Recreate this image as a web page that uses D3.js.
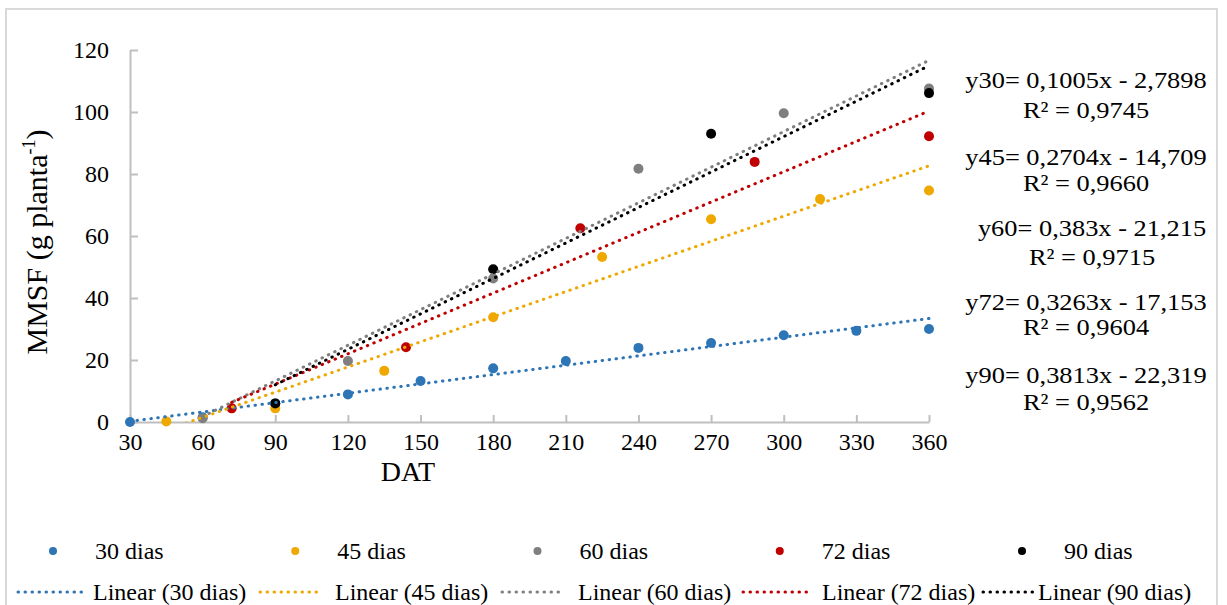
<!DOCTYPE html>
<html>
<head>
<meta charset="utf-8">
<script src="https://cdn.jsdelivr.net/npm/d3@7"></script>
<style>
  html, body { margin: 0; padding: 0; background: #fff; }
  svg { display: block; }
  text { font-family: "Liberation Serif", "Times New Roman", serif; fill: #000; }
</style>
</head>
<body>
<svg id="chart" width="1227" height="605"></svg>
<script>
// ---------- data ----------
const seriesNames = ["30 dias", "45 dias", "60 dias", "72 dias", "90 dias"];
const trendNames = ["Linear (30 dias)", "Linear (45 dias)", "Linear (60 dias)", "Linear (72 dias)", "Linear (90 dias)"];
const colors = ["#2E75B6", "#EEA800", "#7F7F7F", "#C00000", "#000000"];

const x30 = [30, 60, 90, 120, 150, 180, 210, 240, 270, 300, 330, 360];
const y30 = [0.0, 1.5, 6.0, 8.9, 13.2, 17.3, 19.7, 23.9, 25.5, 28.0, 29.4, 30.0];
const x45 = [45, 90, 135, 180, 225, 270, 315, 360];
const y45 = [0.2, 4.4, 16.5, 33.8, 53.2, 65.4, 71.9, 74.7];
const x60 = [60, 120, 180, 240, 300, 360];
const y60 = [1.2, 19.7, 46.3, 81.7, 99.6, 107.6];
const x72 = [72, 144, 216, 288, 360];
const y72 = [4.4, 24.1, 62.5, 83.9, 92.2];
const x90 = [90, 180, 270, 360];
const y90 = [6.0, 49.3, 93.0, 106.1];

const slopes = [0.1005, 0.2704, 0.383, 0.3263, 0.3813];
const intercepts = [-2.7898, -14.709, -21.215, -17.153, -22.319];
const eqLabels = ["y30= 0,1005x - 2,7898", "y45= 0,2704x - 14,709", "y60= 0,383x - 21,215", "y72= 0,3263x - 17,153", "y90= 0,3813x - 22,319"];
const r2Labels = ["R\u00B2 = 0,9745", "R\u00B2 = 0,9660", "R\u00B2 = 0,9715", "R\u00B2 = 0,9604", "R\u00B2 = 0,9562"];

const xTicks = [30, 60, 90, 120, 150, 180, 210, 240, 270, 300, 330, 360];
const yTicks = [0, 20, 40, 60, 80, 100, 120];

const xsAll = [x30, x45, x60, x72, x90];
const ysAll = [y30, y45, y60, y72, y90];

// ---------- layout ----------
const FONT = "Liberation Serif, Times New Roman, serif";
const svg = d3.select("#chart").attr("font-family", FONT);
const x = d3.scaleLinear().domain([30, 360]).range([130, 929]);
const y = d3.scaleLinear().domain([0, 120]).range([422, 50]);
const axisColor = "#BFBFBF";
const fs = 24;

// chart border
svg.append("rect").attr("x", 6).attr("y", 9).attr("width", 1211).attr("height", 620)
  .attr("fill", "none").attr("stroke", "#D9D9D9").attr("stroke-width", 2);

// axes
const xAxis = svg.append("g").attr("transform", `translate(0,${y(0)})`)
  .call(d3.axisBottom(x).tickValues(xTicks).tickSizeInner(-7).tickSizeOuter(0).tickPadding(11).tickFormat(d3.format("d")));
const yAxis = svg.append("g").attr("transform", `translate(${x(30)},0)`)
  .call(d3.axisLeft(y).tickValues(yTicks).tickSizeInner(-8).tickSizeOuter(0).tickPadding(21).tickFormat(d3.format("d")));
[xAxis, yAxis].forEach(g => {
  g.attr("font-family", FONT).attr("font-size", fs);
  g.selectAll("path, line").attr("stroke", axisColor).attr("stroke-width", 2);
  g.selectAll("text").attr("font-size", fs).attr("font-family", FONT).attr("fill", "#000");
});

// axis titles
svg.append("text").attr("x", 408).attr("y", 481).attr("text-anchor", "middle")
  .attr("font-family", FONT).attr("font-size", 28).text("DAT");
const yt = svg.append("text").attr("transform", `translate(47,242) rotate(-90)`)
  .attr("text-anchor", "middle").attr("font-family", FONT).attr("font-size", 30);
yt.append("tspan").text("MMSF (g planta");
yt.append("tspan").attr("font-size", 18).attr("dy", -12).text("-1");
yt.append("tspan").attr("dy", 12).text(")");

// clip for plot area
svg.append("clipPath").attr("id", "plotclip").append("rect")
  .attr("x", x(30) - 10).attr("y", y(120)).attr("width", x(360) - x(30) + 20).attr("height", y(0) - y(120));

// markers
const markerG = svg.append("g");
seriesNames.forEach((name, i) => {
  const pts = xsAll[i].map((xv, j) => [xv, ysAll[i][j]]);
  markerG.selectAll(null).data(pts).enter().append("circle")
    .attr("cx", d => x(d[0])).attr("cy", d => y(d[1])).attr("r", 5)
    .attr("fill", colors[i]);
});

// trendlines (drawn above markers)
const lineG = svg.append("g").attr("clip-path", "url(#plotclip)");
const line = d3.line().x(d => x(d[0])).y(d => y(d[1]));
seriesNames.forEach((name, i) => {
  const xs = xsAll[i];
  const x0 = d3.min(xs), x1 = d3.max(xs);
  const pts = [[x0, slopes[i] * x0 + intercepts[i]], [x1, slopes[i] * x1 + intercepts[i]]];
  lineG.append("path").attr("d", line(pts)).attr("fill", "none")
    .attr("stroke", colors[i]).attr("stroke-width", 3)
    .attr("stroke-linecap", "round").attr("stroke-dasharray", "0.5 6.5");
});

// equation labels
const eqCx = [1086, 1086, 1092, 1086, 1086];
const eqY1 = [88, 165, 236, 310, 383];
const eqY2 = [118, 191, 265, 335, 410];
eqLabels.forEach((t, i) => {
  [[t, eqY1[i]], [r2Labels[i], eqY2[i]]].forEach(([s, yy]) => {
    svg.append("text").attr("transform", `translate(${eqCx[i]},${yy}) scale(1.1,1)`)
      .attr("text-anchor", "middle").attr("font-family", FONT).attr("font-size", fs).text(s);
  });
});

// legend row 1: markers
const legStep = 242.25;
seriesNames.forEach((name, i) => {
  const cx = 53 + i * legStep;
  svg.append("circle").attr("cx", cx).attr("cy", 551).attr("r", 4).attr("fill", colors[i]);
  svg.append("text").attr("x", cx + 42).attr("y", 559).attr("font-family", FONT).attr("font-size", fs).text(name);
});
// legend row 2: trendlines
const l2Start = [18, 260, 502, 743, 983];
const l2Len = [64, 63, 61, 64, 50];
const l2Text = [93, 335, 578, 822, 1038];
trendNames.forEach((name, i) => {
  svg.append("line").attr("x1", l2Start[i]).attr("x2", l2Start[i] + l2Len[i])
    .attr("y1", 592).attr("y2", 592)
    .attr("stroke", colors[i]).attr("stroke-width", 3)
    .attr("stroke-linecap", "round").attr("stroke-dasharray", "0.5 6.5");
  svg.append("text").attr("x", l2Text[i]).attr("y", 600).attr("font-family", FONT).attr("font-size", fs).text(name);
});
</script>
</body>
</html>
